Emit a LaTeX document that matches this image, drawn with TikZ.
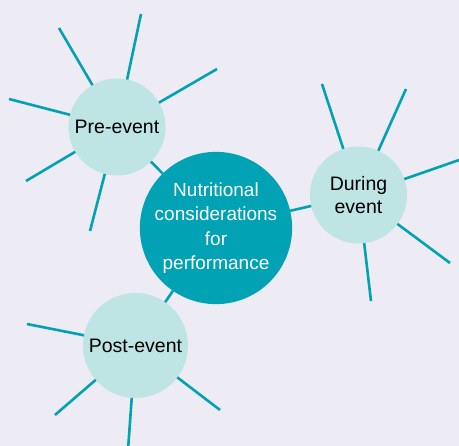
\documentclass[tikz,border=0pt]{standalone}
\usepackage{fontspec}
\setmainfont{Liberation Sans}
\definecolor{bgc}{HTML}{EDEBF4}
\definecolor{teal}{HTML}{00A2B3}
\definecolor{lightc}{HTML}{BEE4E4}
\begin{document}
\begin{tikzpicture}[x=1pt,y=-1pt,
  spoke/.style={draw=teal,line width=2.6pt},
  small/.style={circle,fill=lightc,inner sep=0pt,outer sep=0pt,align=center,
    font=\fontsize{19.5}{23.5}\selectfont,text=black},
  big/.style={circle,fill=teal,inner sep=0pt,outer sep=0pt,align=center,
    minimum size=149pt,font=\fontsize{19}{24.5}\selectfont,text=white}]
\fill[bgc] (0,0) rectangle (459,446);
\useasboundingbox (0,0) rectangle (459,446);
% nodes
\node[big] (center) at (216,228) {Nutritional\\considerations\\for\\performance};
\node[small,minimum size=97pt] (pre) at (117,127) {Pre-event};
\node[small,minimum size=97pt] (during) at (358.5,195) {During\\event};
\node[small,minimum size=105pt] (post) at (135.5,345.5) {Post-event};
% free ends
\coordinate (pa) at (59,28);
\coordinate (pb) at (141,14);
\coordinate (pc) at (217,69);
\coordinate (pd) at (9,99);
\coordinate (pe) at (26,181);
\coordinate (pf) at (90,231);
\coordinate (da) at (322,84);
\coordinate (db) at (406,89);
\coordinate (dc) at (462,159);
\coordinate (dd) at (450,263);
\coordinate (de) at (371,301);
\coordinate (qa) at (27,324);
\coordinate (qb) at (55,415);
\coordinate (qc) at (128,450);
\coordinate (qd) at (220,410);
% spokes
\begin{scope}[on background layer/.style={}]
\foreach \e in {pa,pb,pc,pd,pe,pf} \draw[spoke] (pre) -- (\e);
\foreach \e in {da,db,dc,dd,de} \draw[spoke] (during) -- (\e);
\foreach \e in {qa,qb,qc,qd} \draw[spoke] (post) -- (\e);
\draw[spoke] (pre) -- (center);
\draw[spoke] (during) -- (center);
\draw[spoke] (post) -- (center);
\end{scope}
\end{tikzpicture}
\end{document}
